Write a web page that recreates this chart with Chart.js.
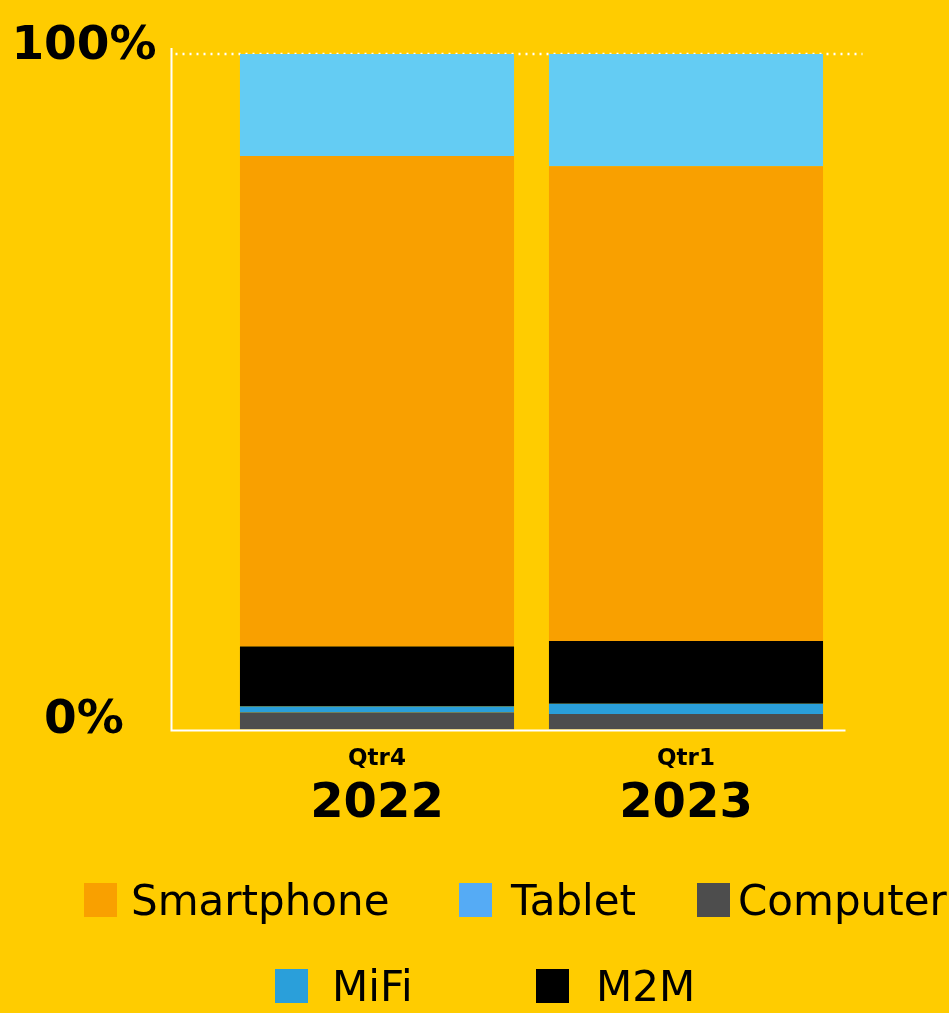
<!DOCTYPE html>
<html>
<head>
<meta charset="utf-8">
<script src="https://cdn.jsdelivr.net/npm/chart.js@4"></script>
<style>
    html, body { margin: 0; padding: 0; background: #FFCC00; overflow: hidden; }
    #wrap { width: 949px; height: 1013px; }
</style>
</head>
<body>
<div id="wrap"><canvas id="shareChart" width="949" height="1013"></canvas></div>
<script>
// quarters on the x axis
const quarters = ["Qtr4", "Qtr1"]
const years = ["2022", "2023"]

// share of each device type, % (bottom of the stack first)
const computer = [2.5, 2.3]
const mifi = [0.9, 1.5]
const m2m = [8.9, 9.3]
const smartphone = [72.6, 70.3]
const tablet = [15.1, 16.6]

const yTicks = [0, 100]
const legendOrder = ["Smartphone", "Tablet", "Computer", "MiFi", "M2M"]

const BOLD = "'DejaVu Sans', sans-serif"

// axis lines, dotted 100% line, tick texts and legend are drawn by hand
const decorations = {
    id: "decorations",
    beforeDatasetsDraw(chart){
        const ctx = chart.ctx
        const y = chart.scales.y
        const axisX = chart.chartArea.left - 51
        const top = y.getPixelForValue(100)
        ctx.save()
        // dotted top line
        ctx.strokeStyle = "#ffffff"
        ctx.lineWidth = 2.5
        ctx.setLineDash([2, 5])
        ctx.beginPath()
        ctx.moveTo(axisX + 4, top)
        ctx.lineTo(chart.chartArea.right + 22, top)
        ctx.stroke()
        ctx.restore()
    },
    afterDatasetsDraw(chart){
        const ctx = chart.ctx
        const x = chart.scales.x, y = chart.scales.y
        const axisX = chart.chartArea.left - 51
        const top = y.getPixelForValue(100)
        const base = y.getPixelForValue(0)
        ctx.save()
        ctx.strokeStyle = "#ffffff"
        ctx.lineWidth = 2
        ctx.beginPath()
        ctx.moveTo(axisX, top - 6)
        ctx.lineTo(axisX, base + 1)
        ctx.lineTo(chart.chartArea.right + 5, base + 1)
        ctx.stroke()

        // y tick labels
        ctx.fillStyle = "#000"
        ctx.textAlign = "center"
        ctx.textBaseline = "alphabetic"
        ctx.font = "bold 47px " + BOLD
        yTicks.forEach(v => {
            const py = y.getPixelForValue(v)
            ctx.fillText(v + "%", 84, v === 100 ? py + 5 : py + 3)
        })

        // x labels: quarter + year
        quarters.forEach((q, i) => {
            const px = x.getPixelForValue(i)
            ctx.font = "bold 23px " + BOLD
            ctx.fillText(q, px, base + 35)
            ctx.font = "bold 48px " + BOLD
            ctx.fillText(years[i], px, base + 87)
        })

        // legend
        const spots = {
            Smartphone: [84, 883, 131],
            Tablet: [459, 883, 511],
            Computer: [697, 883, 738],
            MiFi: [275, 969, 332],
            M2M: [536, 969, 596]
        }
        ctx.textAlign = "left"
        ctx.font = "42px 'DejaVu Sans', sans-serif"
        legendOrder.forEach(name => {
            const ds = chart.data.datasets.find(d => d.label === name)
            const [sx, sy, tx] = spots[name]
            ctx.fillStyle = ds.legendColor
            ctx.fillRect(sx, sy, 33, 34)
            ctx.fillStyle = "#000"
            ctx.fillText(name, tx, sy + 32)
        })
        ctx.restore()
    }
}

new Chart(document.getElementById("shareChart"), {
    type: "bar",
    data: {
        labels: quarters,
        datasets: [
            { label: "Computer", data: computer, backgroundColor: "#4D4D4D", legendColor: "#4D4D4D" },
            { label: "MiFi", data: mifi, backgroundColor: "#2A9FDA", legendColor: "#2A9FDA" },
            { label: "M2M", data: m2m, backgroundColor: "#000000", legendColor: "#000000" },
            { label: "Smartphone", data: smartphone, backgroundColor: "#F9A000", legendColor: "#F9A000" },
            { label: "Tablet", data: tablet, backgroundColor: "#64CCF3", legendColor: "#55ABF5" }
        ]
    },
    options: {
        responsive: false,
        animation: false,
        datasets: {
            bar: { categoryPercentage: 1, barPercentage: 0.887, borderWidth: 0 }
        },
        layout: {
            padding: { left: 222.5, right: 108.5, top: 54, bottom: 283.5 }
        },
        plugins: {
            legend: { display: false },
            tooltip: { enabled: false }
        },
        scales: {
            x: { stacked: true, display: false, grid: { display: false } },
            y: { stacked: true, display: false, min: 0, max: 100, grid: { display: false } }
        }
    },
    plugins: [decorations]
})
</script>
</body>
</html>
